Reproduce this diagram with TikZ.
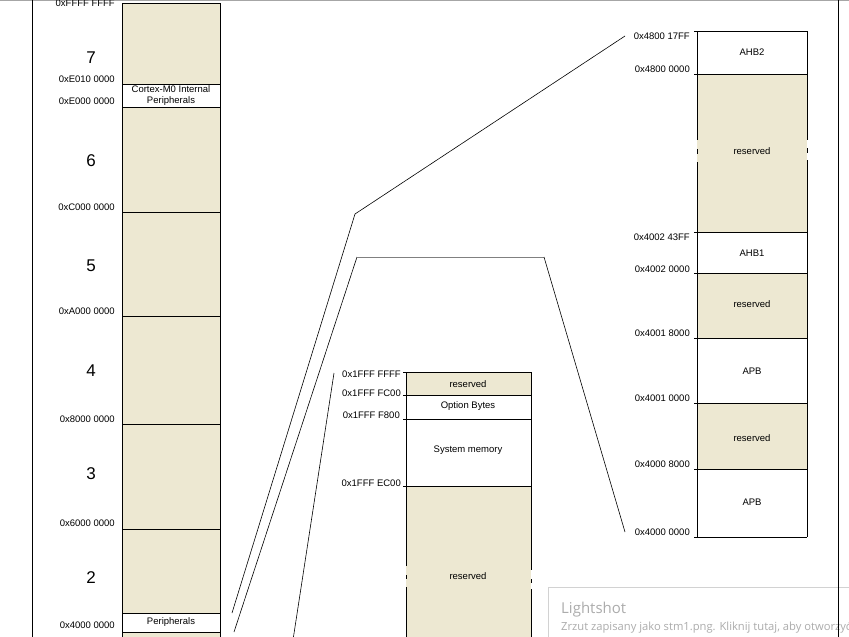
\documentclass[tikz,border=0pt]{standalone}
\usepackage{fontspec}
\setmainfont{Liberation Sans}
\newfontfamily\lsfont{Open Sans}
\definecolor{memtan}{RGB}{237,232,210}
\definecolor{lsgray}{RGB}{172,172,172}
\tikzset{
	addr/.style={anchor=east, inner sep=0pt, font=\fontsize{9.5}{10}\selectfont},
	region/.style={inner sep=0pt, align=center, font=\fontsize{9.5}{11.5}\selectfont},
	bignum/.style={inner sep=0pt, font=\fontsize{17}{18}\selectfont},
	memline/.style={line width=0.8pt},
	zoomline/.style={line width=0.6pt}
}
\begin{document}
	\begin{tikzpicture}[x=1pt, y=-1pt]
	 	\useasboundingbox (0,0) rectangle (849,637);
	 	\clip (0,0) rectangle (849,637);
	
	 	% frame of the page
	 	\draw [gray!70, line width=1.5pt] (0,0.5) -- (849,0.5);
	 	\draw [memline] (32,0) -- (32,637);
	
	 	% left column, whole map
	 	\fill [memtan] (122,3) rectangle (220,640);
	 	\draw [memline] (122,640) -- (122,3) -- (220,3) -- (220,640);
	 	\foreach \y in {212, 316, 424, 529}
	 		\draw [memline] (122,\y) -- (220,\y);
	 	\draw [memline, fill=white] (122,84) rectangle (220,107);
	 	\draw [memline, fill=white] (122,613) rectangle (220,632);
	
	 	% middle column
	 	\fill [memtan] (406,372) rectangle (531,395);
	 	\fill [memtan] (406,486) rectangle (531,640);
	 	\foreach \y in {372, 395, 419, 486}
	 		\draw [memline] (403,\y) -- (531,\y);
	 	\draw [memline] (406,372) -- (406,566) (406,575) -- (406,579) (406,587) -- (406,640);
	 	\draw [memline] (531,372) -- (531,570) (531,579) -- (531,583) (531,589) -- (531,640);
	
	 	% right column
	 	\fill [memtan] (697,74) rectangle (807,232);
	 	\fill [memtan] (697,273) rectangle (807,338);
	 	\fill [memtan] (697,403) rectangle (807,469);
	 	\foreach \y in {31, 74, 232, 273, 338, 403, 469, 537}
	 		\draw [memline] (694,\y) -- (807,\y);
	 	\draw [memline] (697,31) -- (697,140) (697,149) -- (697,154) (697,162) -- (697,537);
	 	\draw [memline] (807,31) -- (807,140) (807,148) -- (807,153) (807,160) -- (807,537);
	
	 	\begin{scope}[every node/.style={addr}]
	 	\node (lFFFFFFFF) at (115,3)   {0xFFFF FFFF};
	 	\node (lE0100000) at (115,79)  {0xE010 0000};
	 	\node (lE0000000) at (115,101) {0xE000 0000};
	 	\node (lC0000000) at (115,207) {0xC000 0000};
	 	\node (lA0000000) at (115,311) {0xA000 0000};
	 	\node (l80000000) at (115,419) {0x8000 0000};
	 	\node (l60000000) at (115,523) {0x6000 0000};
	 	\node (l40000000) at (115,625) {0x4000 0000};
	
	 	\node (m1FFFFFFF) at (401,374) {0x1FFF FFFF};
	 	\node (m1FFFFC00) at (401,393) {0x1FFF FC00};
	 	\node (m1FFFF800) at (400,415) {0x1FFF F800};
	 	\node (m1FFFEC00) at (401,483) {0x1FFF EC00};
	
	 	\node (r480017FF) at (690,36)  {0x4800 17FF};
	 	\node (r48000000) at (690,69)  {0x4800 0000};
	 	\node (r400243FF) at (690,237) {0x4002 43FF};
	 	\node (r40020000) at (690,269) {0x4002 0000};
	 	\node (r40018000) at (690,333) {0x4001 8000};
	 	\node (r40010000) at (690,398) {0x4001 0000};
	 	\node (r40008000) at (690,464) {0x4000 8000};
	 	\node (r40000000) at (690,532) {0x4000 0000};
	 	\end{scope}
	
	 	\begin{scope}[every node/.style={bignum}]
	 	\node (reg7) at (91,58)  {7};
	 	\node (reg6) at (91,161) {6};
	 	\node (reg5) at (91,266) {5};
	 	\node (reg4) at (91,371) {4};
	 	\node (reg3) at (91,474) {3};
	 	\node (reg2) at (91,578) {2};
	 	\end{scope}
	
	 	\begin{scope}[every node/.style={region}]
	 	\node (cortex) at (171,95.5) {Cortex-M0 Internal\\Peripherals};
	 	\node (periph) at (171,622)  {Peripherals};
	
	 	\node (sysres)  at (468,384) {reserved};
	 	\node (optbyte) at (468,406) {Option Bytes};
	 	\node (sysmem)  at (468,450) {System memory};
	 	\node (flashres) at (468,576) {reserved};
	
	 	\node (ahb2)  at (752,52)  {AHB2};
	 	\node (res1)  at (752,151) {reserved};
	 	\node (ahb1)  at (752,253) {AHB1};
	 	\node (res2)  at (752,304) {reserved};
	 	\node (apb1)  at (752,371) {APB};
	 	\node (res3)  at (752,438) {reserved};
	 	\node (apb2)  at (752,502) {APB};
	 	\end{scope}
	
	 	% zoom lines
	 	\coordinate (a0) at (232,613);
	 	\coordinate (a1) at (355,214);
	 	\coordinate (a2) at (625,36);
	 	\coordinate (b0) at (234,632);
	 	\coordinate (b1) at (357,257);
	 	\coordinate (b2) at (544,257);
	 	\coordinate (b3) at (625,532);
	 	\coordinate (c0) at (293,640);
	 	\coordinate (c1) at (334,373);
	
	 	\path [zoomline] (a0) edge (a1);
	 	\path [zoomline] (a1) edge (a2);
	 	\path [zoomline] (b0) edge (b1);
	 	\path [zoomline, gray] (b1) edge (b2);
	 	\path [zoomline] (b2) edge (b3);
	 	\path [zoomline] (c0) edge (c1);
	
	 	% screenshot notice
	 	\fill [white] (548,587) rectangle (860,645);
	 	\draw [gray!35] (548,645) -- (548,587) -- (860,587);
	 	\node [anchor=base west, inner sep=0pt, text=lsgray, font=\lsfont\fontsize{15}{17}\selectfont] (lstitle) at (561,613) {Lightshot};
	 	\node [anchor=base west, inner sep=0pt, text=lsgray, font=\lsfont\fontsize{11.2}{13}\selectfont] (lsmsg) at (561,630) {Zrzut zapisany jako stm1.png. Kliknij tutaj, aby otworzyć};
	
	 	\draw [memline] (838,0) -- (838,637);
	\end{tikzpicture}
\end{document}
